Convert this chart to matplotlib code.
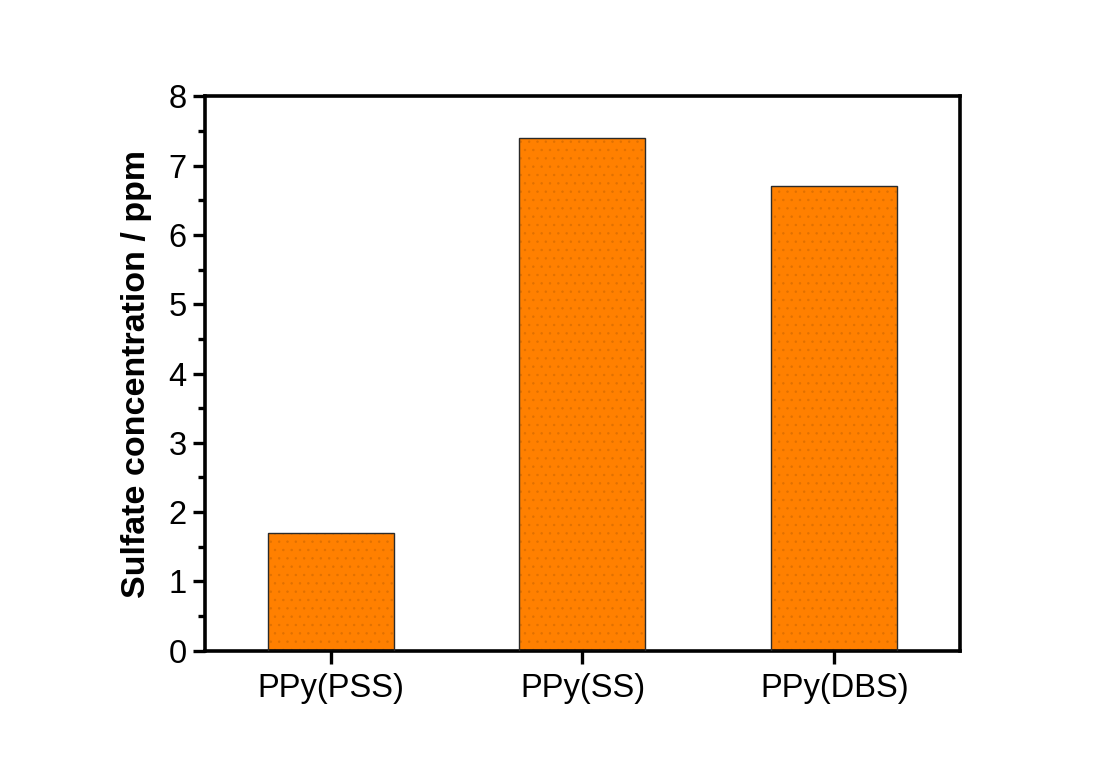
import matplotlib.pyplot as plt
from matplotlib.ticker import MultipleLocator

# data
samples = ['PPy(PSS)', 'PPy(SS)', 'PPy(DBS)']
sulfate = [1.7, 7.4, 6.7]

plt.rcParams['font.family'] = ['Liberation Sans', 'DejaVu Sans']
plt.rcParams['hatch.linewidth'] = 0.5

fig = plt.figure(figsize=(11, 7.71), dpi=100)
ax = fig.add_axes([0.186, 0.156, 0.687, 0.719])

pos = list(range(1, len(samples) + 1))
# fill with faint dot pattern, then dark outline on top
ax.bar(pos, sulfate, width=0.5, color='#ff8000', edgecolor='#e07000',
       linewidth=0, hatch='..', zorder=2)
ax.bar(pos, sulfate, width=0.5, fill=False, edgecolor='#2a2a2a',
       linewidth=1.0, zorder=3)

ax.set_xlim(0.5, 3.5)
ax.set_ylim(0, 8)
ax.set_xticks(pos)
ax.set_xticklabels(samples)
ax.yaxis.set_major_locator(MultipleLocator(1))
ax.yaxis.set_minor_locator(MultipleLocator(0.5))

for s in ax.spines.values():
    s.set_linewidth(2.6)

ax.tick_params(axis='y', which='major', direction='out', length=9,
               width=2.4, labelsize=23.5, pad=4)
ax.tick_params(axis='x', which='major', direction='out', length=9,
               width=2.4, labelsize=23.5, pad=7)
ax.tick_params(axis='y', which='minor', direction='out', length=5, width=2.4)
ax.tick_params(top=False, right=False)

ax.set_ylabel('Sulfate concentration / ppm', fontsize=24.5, fontweight='bold',
              labelpad=12)

fig.savefig('out.png', dpi=100)
